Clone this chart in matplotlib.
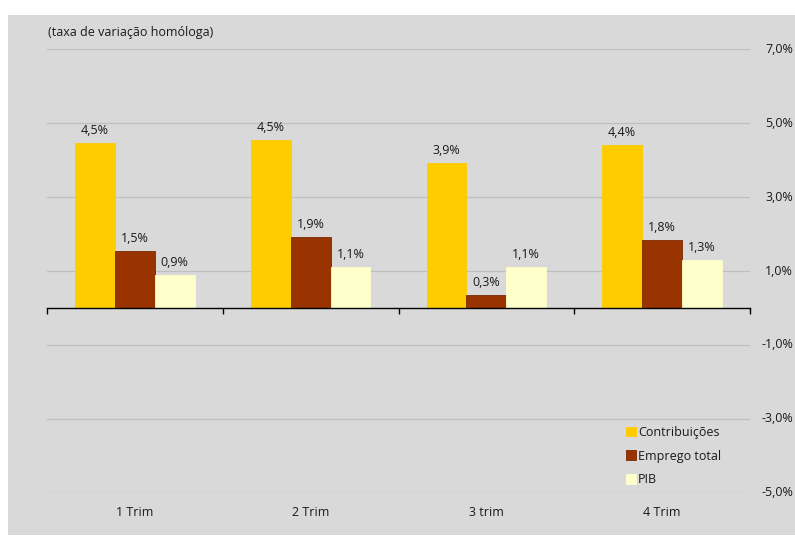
import numpy as np
import matplotlib.pyplot as plt
from matplotlib.patches import Rectangle
import matplotlib.transforms as mtransforms

categories = ["1 Trim", "2 Trim", "3 trim", "4 Trim"]
contribuicoes = [4.46, 4.54, 3.92, 4.41]
emprego = [1.54, 1.92, 0.35, 1.84]
pib = [0.89, 1.11, 1.11, 1.30]
series_names = ["Contribuições", "Emprego total", "PIB"]
colors = ["#FFCC00", "#993300", "#FFFFCC"]
yticks = [7, 5, 3, 1, -1, -3, -5]

plt.rcParams['font.family'] = ['Open Sans', 'DejaVu Sans']
fs = 9

W, H = 795, 536
fig = plt.figure(figsize=(W / 100, H / 100), dpi=100)
fig.patch.set_facecolor("white")
fig.patches.append(Rectangle((8 / W, 1 - 535 / H), (W - 8) / W, (535 - 15) / H,
                             transform=fig.transFigure, facecolor="#D9D9D9",
                             edgecolor="none", zorder=-10))

ax = fig.add_axes([47 / W, 1 - 493 / H, (750 - 47) / W, (493 - 49) / H])
ax.set_facecolor("none")

x = np.arange(len(categories))
bw = 0.227
for i, (vals, col) in enumerate(zip([contribuicoes, emprego, pib], colors)):
    bars = ax.bar(x + (i - 1) * bw, vals, bw, color=col, label=series_names[i],
                  edgecolor=col if i != 1 else "#7A2800", linewidth=0.6, zorder=3)
    for b, v in zip(bars, vals):
        ax.text(b.get_x() + b.get_width() / 2, v + 0.16, f"{v:.1f}%".replace(".", ","),
                ha="center", va="bottom", fontsize=fs, color="#1a1a1a", zorder=4)

ax.set_xlim(-0.5, len(categories) - 0.5)
ax.set_ylim(-5, 7)
ax.set_yticks(yticks)
ax.set_yticklabels([])
ax.tick_params(axis="y", length=0)
ax.grid(axis="y", color="#BFBFBF", linewidth=0.9, zorder=1)
ax.set_axisbelow(True)

ytrans = mtransforms.blended_transform_factory(fig.transFigure, ax.transData)
for v in yticks:
    ax.text(793 / W, v, f"{v:.1f}%".replace(".", ","), transform=ytrans,
            ha="right", va="center", fontsize=fs, color="#1a1a1a", clip_on=False)

for s in ["top", "right", "left"]:
    ax.spines[s].set_visible(False)
ax.spines["bottom"].set_position(("data", 0))
ax.spines["bottom"].set_color("black")
ax.spines["bottom"].set_linewidth(1.0)
ax.spines["bottom"].set_zorder(5)
ax.set_xticks(np.arange(len(categories) + 1) - 0.5)
ax.set_xticklabels([])
ax.tick_params(axis="x", direction="out", length=4, width=1, color="black")

trans = mtransforms.blended_transform_factory(ax.transData, ax.transAxes)
for xi, c in zip(x, categories):
    ax.text(xi, -0.045, c, transform=trans, ha="center", va="center", fontsize=fs, color="#1a1a1a")

ax.text(0.002, 1.037, "(taxa de variação homóloga)", transform=ax.transAxes,
        ha="left", va="center", fontsize=fs, color="#1a1a1a")

leg = ax.legend(loc="lower right", bbox_to_anchor=(0.975, -0.01), frameon=False, fontsize=fs,
                handlelength=0.8, handleheight=0.8, handletextpad=0.15, labelspacing=0.85)
for t in leg.get_texts():
    t.set_color("#1a1a1a")

fig.savefig("out.png", dpi=100, facecolor=fig.get_facecolor())
